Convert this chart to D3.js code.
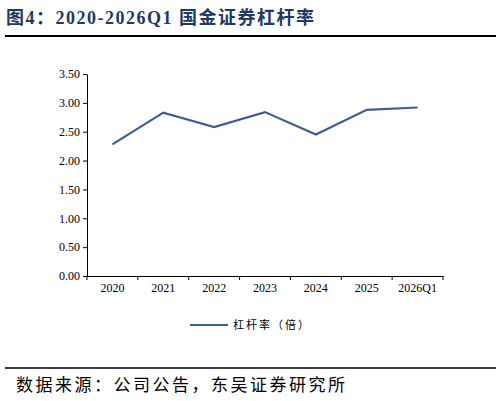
<!DOCTYPE html><html><head><meta charset="utf-8"><script src="https://cdn.jsdelivr.net/npm/d3@7"></script>
<style>body{margin:0;background:#fff}</style></head><body><svg id="c" width="501" height="401"></svg>
<script>
const categories=["2020","2021","2022","2023","2024","2025","2026Q1"];
const values=[2.28,2.83,2.58,2.84,2.45,2.88,2.92];
const yTicks=[0,0.5,1,1.5,2,2.5,3,3.5];
const svg=d3.select("#c");
const cjk="'Noto Sans CJK SC',sans-serif", serif="'Liberation Serif','DejaVu Serif',serif";
svg.append("text").attr("x",6).attr("y",24).attr("fill","#1f3864").attr("font-weight","bold").attr("font-size",18).attr("letter-spacing",1.5).attr("font-family",serif+","+cjk).text("图4：2020-2026Q1  国金证券杠杆率");
svg.append("line").attr("x1",5).attr("x2",496).attr("y1",36).attr("y2",36).attr("stroke","#000").attr("stroke-width",2);
const x=d3.scaleBand().domain(categories).range([87,443]);
const y=d3.scaleLinear().domain([0,3.5]).range([276,74]);
const ya=svg.append("g").attr("transform","translate(87,0)").call(d3.axisLeft(y).tickValues(yTicks).tickFormat(d3.format(".2f")).tickSize(4).tickSizeOuter(0));
const xa=svg.append("g").attr("transform","translate(0,276)").call(d3.axisBottom(x).tickSize(0));
[ya,xa].forEach(a=>{a.selectAll("text").attr("font-family",serif).attr("font-size",12).attr("fill","#000");a.selectAll("path,line").attr("stroke","#000");});
xa.selectAll("text").attr("dy","1.1em");
xa.selectAll(".sep").data(categories.concat([null])).enter().append("line").attr("x1",(d,i)=>87+i*x.step()).attr("x2",(d,i)=>87+i*x.step()).attr("y1",0).attr("y2",4).attr("stroke","#000");
svg.append("path").datum(values).attr("fill","none").attr("stroke","#3a5f95").attr("stroke-width",2.2)
 .attr("d",d3.line().x((d,i)=>x(categories[i])+x.bandwidth()/2).y(d=>y(d)));
svg.append("line").attr("x1",190).attr("x2",228).attr("y1",325).attr("y2",325).attr("stroke","#3a5f95").attr("stroke-width",2.2);
svg.append("text").attr("x",233).attr("y",329).attr("font-size",11).attr("letter-spacing",2).attr("font-family",cjk).text("杠杆率（倍）");
svg.append("line").attr("x1",5).attr("x2",496).attr("y1",368).attr("y2",368).attr("stroke","#000").attr("stroke-width",1.5);
svg.append("text").attr("x",16).attr("y",391).attr("font-size",17).attr("letter-spacing",2.5).attr("font-family",cjk).text("数据来源：公司公告，东吴证券研究所");
</script></body></html>
